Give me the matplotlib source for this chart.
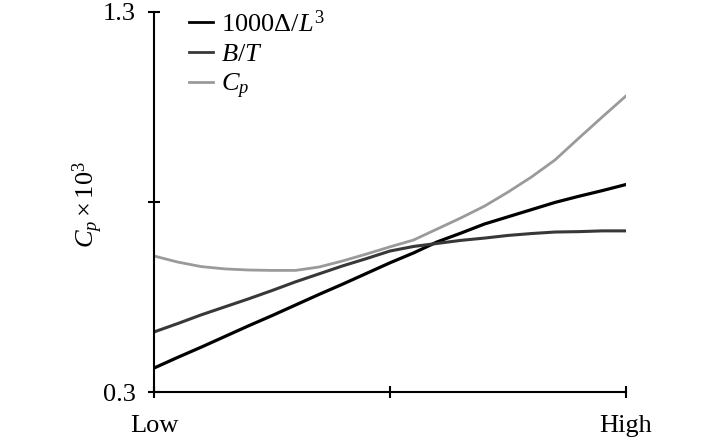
import matplotlib
matplotlib.use("Agg")
import matplotlib.pyplot as plt

plt.rcParams['font.family'] = ['Liberation Serif', 'DejaVu Serif']
plt.rcParams['mathtext.fontset'] = 'custom'
plt.rcParams['mathtext.rm'] = 'Liberation Serif'
plt.rcParams['mathtext.it'] = 'Liberation Serif:italic'

# x runs from Low (0) to High (1)
x = [0.0, 0.05, 0.1, 0.15, 0.2, 0.25, 0.3, 0.35, 0.4, 0.45, 0.5,
     0.55, 0.6, 0.65, 0.7, 0.75, 0.8, 0.85, 0.9, 0.95, 1.0]
disp = [0.363, 0.391, 0.418, 0.446, 0.474, 0.501, 0.529, 0.557, 0.584, 0.612, 0.640,
        0.666, 0.695, 0.718, 0.742, 0.761, 0.780, 0.799, 0.815, 0.830, 0.846]
bt = [0.458, 0.480, 0.503, 0.524, 0.545, 0.567, 0.590, 0.611, 0.632, 0.651, 0.671,
      0.683, 0.691, 0.699, 0.705, 0.712, 0.717, 0.721, 0.722, 0.724, 0.724]
cp = [0.658, 0.642, 0.630, 0.624, 0.621, 0.620, 0.620, 0.629, 0.645, 0.663, 0.682,
      0.700, 0.729, 0.758, 0.789, 0.826, 0.866, 0.911, 0.968, 1.024, 1.079]

labels = [r'$1000\Delta/L^3$', r'$B/T$', r'$C_p$']
xticks = [0, 0.5, 1]
xlabels = ['Low', '', 'High']
yticks = [0.3, 0.8, 1.3]
ylabels = ['0.3', '', '1.3']

fig = plt.figure(figsize=(7.09, 4.42), dpi=100)
ax = fig.add_axes([0.2172, 0.1131, 0.6657, 0.8598])

ax.plot(x, disp, color='#000000', lw=2.3, label=labels[0])
ax.plot(x, bt, color='#383838', lw=2.2, label=labels[1])
ax.plot(x, cp, color='#9a9a9a', lw=2.0, label=labels[2])

ax.set_xlim(0, 1)
ax.set_ylim(0.3, 1.3)
ax.set_xticks(xticks)
ax.set_xticklabels(xlabels)
ax.set_yticks(yticks)
ax.set_yticklabels(ylabels)
ax.spines['top'].set_visible(False)
ax.spines['right'].set_visible(False)
for s in ['left', 'bottom']:
    ax.spines[s].set_linewidth(1.5)
ax.tick_params(axis='both', direction='inout', length=8.5, width=1.5, labelsize=19)
ax.tick_params(axis='x', pad=12)
ax.tick_params(axis='y', pad=9)

fig.text(88 / 709, 1 - 204 / 442, r'$C_p\times10^3$', fontsize=19,
         rotation=90, ha='center', va='center')

leg = ax.legend(loc='upper left', bbox_to_anchor=(0.075, 1.005), frameon=False,
                fontsize=19, handlelength=0.9, handletextpad=0.3,
                labelspacing=0.22, borderpad=0, borderaxespad=0)
for h in leg.get_lines():
    h.set_linewidth(2.0)

fig.savefig('out.png', dpi=100)
